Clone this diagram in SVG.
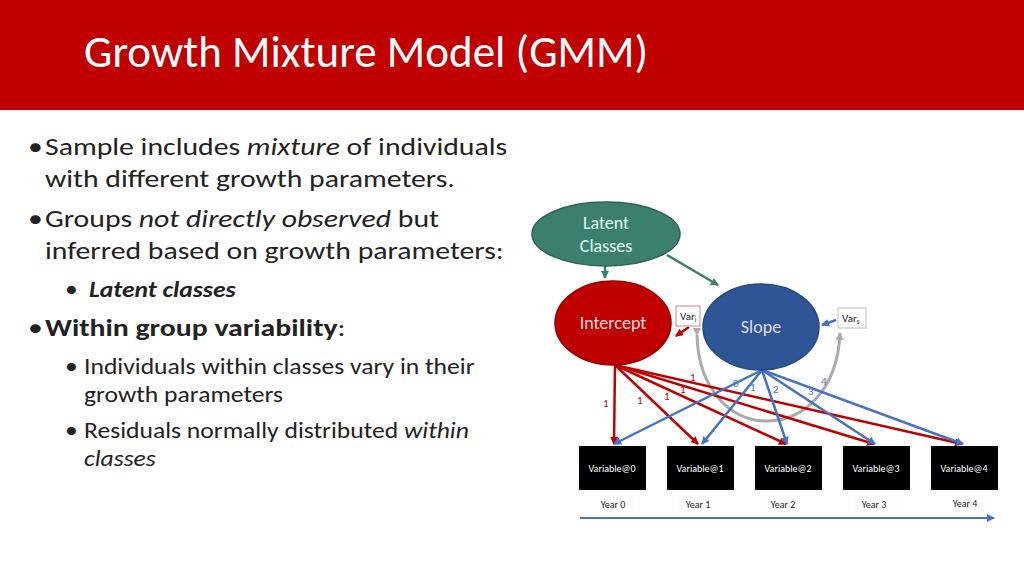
<svg xmlns="http://www.w3.org/2000/svg" width="1024" height="576" viewBox="0 0 1024 576">
<defs>
<style>
text{font-family:Calibri,Carlito,"Liberation Sans",sans-serif}
.b{font-size:25px;fill:#222}
.s{font-size:21.5px;fill:#222}
.r{stroke:#c00000;stroke-width:2.5;fill:none;marker-end:url(#ar)}
.u{stroke:#4472c4;stroke-width:2.5;fill:none;marker-end:url(#au)}
.lr{font-size:11px;fill:#c00000}
.lu{font-size:11px;fill:#4472c4}
.bx{fill:#000}
.bt{font-size:10px;fill:#fff;text-anchor:middle}
.yt{font-size:10px;fill:#222;text-anchor:middle}
</style>
<marker id="ar" markerWidth="8" markerHeight="8" refX="7" refY="4" orient="auto" markerUnits="userSpaceOnUse"><path d="M0,0L8,4L0,8z" fill="#c00000"/></marker>
<marker id="au" markerWidth="8" markerHeight="8" refX="7" refY="4" orient="auto" markerUnits="userSpaceOnUse"><path d="M0,0L8,4L0,8z" fill="#4472c4"/></marker>
<marker id="ag" markerWidth="8" markerHeight="8" refX="7" refY="4" orient="auto" markerUnits="userSpaceOnUse"><path d="M0,0L8,4L0,8z" fill="#aaa"/></marker>
<marker id="at" markerWidth="8" markerHeight="8" refX="7" refY="4" orient="auto" markerUnits="userSpaceOnUse"><path d="M0,0L8,4L0,8z" fill="#3d7f6e"/></marker>
</defs>
<rect width="1024" height="576" fill="#fff"/>
<rect width="1024" height="110" fill="#c00000"/>
<text x="84" y="67" style="font-size:45px;fill:#fff">Growth Mixture Model (GMM)</text>
<g id="bullets" transform="scale(1.19,1)">
<text x="23.5" y="155" class="b">•</text>
<text x="37.8" y="155" class="b">Sample includes <tspan font-style="italic">mixture</tspan> of individuals</text>
<text x="37.8" y="187" class="b">with different growth parameters.</text>
<text x="23.5" y="227" class="b">•</text>
<text x="37.8" y="227" class="b">Groups <tspan font-style="italic">not directly observed</tspan> but</text>
<text x="37.8" y="259" class="b">inferred based on growth parameters:</text>
<text x="54.6" y="297" class="s">•</text>
<text x="74.8" y="297" class="s" font-weight="bold" font-style="italic">Latent classes</text>
<text x="23.5" y="336" class="b">•</text>
<text x="37.8" y="336" class="b"><tspan font-weight="bold">Within group variability</tspan>:</text>
<text x="54.6" y="374" class="s">•</text>
<text x="70.6" y="374" class="s">Individuals within classes vary in their</text>
<text x="70.6" y="402" class="s">growth parameters</text>
<text x="54.6" y="438" class="s">•</text>
<text x="70.6" y="438" class="s">Residuals normally distributed <tspan font-style="italic">within</tspan></text>
<text x="70.6" y="466" class="s" font-style="italic">classes</text>
</g>
<g id="connectors">
<path d="M605,266L605,278" stroke="#3d7f6e" stroke-width="2.5" marker-end="url(#at)"/>
<path d="M667,255L718,285" stroke="#3d7f6e" stroke-width="2.5" marker-end="url(#at)"/>
<path d="M697,335C700,450 835,450 840,333" stroke="#aaa" stroke-width="3" fill="none" marker-end="url(#ag)" marker-start="url(#ag)"/>
<path d="M689,327L676,336" class="r"/>
<path d="M836,320L822,325" class="u"/>
<path d="M615,365L614,444" class="r"/>
<path d="M615,365L698,444" class="r"/>
<path d="M615,365L786,444" class="r"/>
<path d="M615,365L874,444" class="r"/>
<path d="M615,365L962,444" class="r"/>
<path d="M762,370L614,444" class="u"/>
<path d="M762,370L702,444" class="u"/>
<path d="M762,370L787,444" class="u"/>
<path d="M762,370L875,444" class="u"/>
<path d="M762,370L963,444" class="u"/>
<text x="603" y="407" class="lr">1</text>
<text x="637" y="404" class="lr">1</text>
<text x="664" y="400" class="lr">1</text>
<text x="680" y="393" class="lr">1</text>
<text x="690" y="381" class="lr">1</text>
<text x="733" y="387" class="lu">0</text>
<text x="750" y="391" class="lu">1</text>
<text x="773" y="393" class="lu">2</text>
<text x="808" y="395" class="lu">3</text>
<text x="821" y="385" class="lu">4</text>
<path d="M580,518L994,518" stroke="#4472c4" stroke-width="2" marker-end="url(#au)"/>
</g>
<g id="latent"><ellipse cx="606" cy="234" rx="74" ry="32" fill="#3d7f6e" stroke="#2e6155" stroke-width="1.5"/><text x="606" y="229" text-anchor="middle" font-size="18" fill="#dfe">Latent</text><text x="606" y="252" text-anchor="middle" font-size="18" fill="#dfe">Classes</text></g>
<g id="intercept"><ellipse cx="613" cy="323" rx="58" ry="42" fill="#c00000" stroke="#900" stroke-width="1.5"/><text x="613" y="329" text-anchor="middle" font-size="18" fill="#fdd">Intercept</text></g>
<g id="slope"><ellipse cx="761" cy="327" rx="58" ry="43" fill="#2f5597" stroke="#254a80" stroke-width="1.5"/><text x="761" y="333" text-anchor="middle" font-size="18" fill="#dde">Slope</text></g>
<g id="vari"><rect x="676" y="306" width="24" height="20" fill="#fff" stroke="#e08080"/><text x="680" y="320" font-size="11" fill="#222">Var<tspan font-size="7" dy="2">i</tspan></text></g>
<g id="vars"><rect x="838" y="308" width="28" height="20" fill="#fff" stroke="#bbb"/><text x="842" y="322" font-size="11" fill="#222">Var<tspan font-size="7" dy="2">s</tspan></text></g>
<g id="v0"><rect x="579" y="446" width="67" height="44" class="bx"/><text x="612" y="472" class="bt">Variable@0</text></g>
<g id="v1"><rect x="667" y="446" width="67" height="44" class="bx"/><text x="700" y="472" class="bt">Variable@1</text></g>
<g id="v2"><rect x="755" y="446" width="67" height="44" class="bx"/><text x="788" y="472" class="bt">Variable@2</text></g>
<g id="v3"><rect x="843" y="446" width="67" height="44" class="bx"/><text x="876" y="472" class="bt">Variable@3</text></g>
<g id="v4"><rect x="931" y="446" width="67" height="44" class="bx"/><text x="964" y="472" class="bt">Variable@4</text></g>
<text x="613" y="508" class="yt">Year 0</text>
<text x="698" y="508" class="yt">Year 1</text>
<text x="783" y="508" class="yt">Year 2</text>
<text x="874" y="508" class="yt">Year 3</text>
<text x="965" y="507" class="yt">Year 4</text>
</svg>
